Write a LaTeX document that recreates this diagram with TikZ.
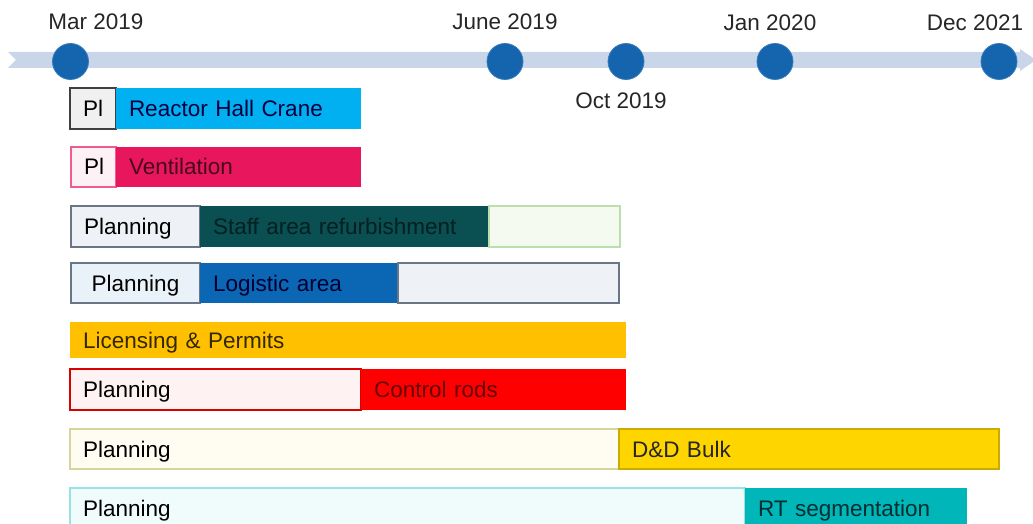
\documentclass[tikz,border=0pt]{standalone}
\usepackage{fontspec}
\setmainfont{Liberation Sans}
\usetikzlibrary{positioning}
\definecolor{bandc}{HTML}{C9D5E8}
\definecolor{dotc}{HTML}{1465AE}
\definecolor{cranec}{HTML}{00B0F0}
\definecolor{ventc}{HTML}{E8175D}
\definecolor{staffc}{HTML}{0A4F52}
\definecolor{logc}{HTML}{0B67B3}
\definecolor{licc}{HTML}{FFC000}
\definecolor{rodc}{HTML}{FF0000}
\definecolor{bulkc}{HTML}{FFD500}
\definecolor{rtc}{HTML}{00B6B8}
\definecolor{greyline}{HTML}{6A7585}
\definecolor{paleblue}{HTML}{EAF2F9}
\definecolor{palegrey}{HTML}{EEF1F5}
\definecolor{palegreen}{HTML}{F5FAF1}
\definecolor{greenline}{HTML}{BCDFAE}
\tikzset{
 seg/.style={minimum height=40pt, inner xsep=13pt, inner ysep=0pt, outer sep=0pt, anchor=west,
  text height=17pt, text depth=1pt,
  align=left, font=\fontsize{22.5}{24}\selectfont, line width=1.2pt},
 dot/.style={circle, fill=dotc, draw=dotc!85!white, line width=.8pt, minimum size=36pt, inner sep=0pt},
 datelbl/.style={font=\fontsize{22.5}{24}\selectfont, text=black!85}
}
\begin{document}
\begin{tikzpicture}[x=1pt, y=-1pt]
\useasboundingbox (0,0) rectangle (1033,524);
% timeline
\fill[bandc](8,52)--(1020,52)--(1020,49)--(1036,60)--(1020,71)--(1020,68)--(8,68)--(16,60)--cycle;
\node[dot] (mar) at (70.5,61.5) {};
\node[dot] (jun) at (505,61.5) {};
\node[dot] (oct) at (626,61.5) {};
\node[dot] (jan) at (775,61.5) {};
\node[dot] (dec) at (999,61.5) {};
\node[datelbl] (marlbl) at (96,22) {Mar 2019};
\node[datelbl] (junlbl) at (505,22) {June 2019};
\node[datelbl] (janlbl) at (770,23) {Jan 2020};
\node[datelbl] (declbl) at (975,23) {Dec 2021};
\node[datelbl] (octlbl) at (621,101) {Oct 2019};
% work packages
\node[seg, draw=black!75, fill=black!6, text width=20pt, align=center, minimum height=41pt] (cranepl) at (70,108.5) {Pl};
\node[seg, fill=cranec, text=blue!25!black, text width=219pt, minimum height=41pt, right=0pt of cranepl] (crane) {Reactor Hall Crane};
\node[seg, draw=ventc!70!white, fill=ventc!6, text width=19pt, align=center] (ventpl) at (71,167) {Pl};
\node[seg, fill=ventc, text=ventc!30!black, text width=219pt, right=0pt of ventpl] (vent) {Ventilation};
\node[seg, draw=greyline, fill=palegrey, text width=103pt, minimum height=41pt] (staffpl) at (71,226.5) {Planning};
\node[seg, fill=staffc, text=staffc!40!black, text width=263pt, minimum height=41pt, right=0pt of staffpl] (staff) {Staff area refurbishment};
\node[seg, draw=greenline, fill=palegreen, text width=105pt, minimum height=41pt, right=0pt of staff] (staffend) {};
\node[seg, draw=greyline, fill=paleblue, text width=103pt, align=center] (logpl) at (71,283) {Planning};
\node[seg, fill=logc, text=blue!20!black, text width=172pt, right=0pt of logpl] (log) {Logistic area};
\node[seg, draw=greyline, fill=palegrey, text width=195pt, right=0pt of log] (logend) {};
\node[seg, fill=licc, text=licc!20!black, text width=530pt, minimum height=36pt] (lic) at (70,340) {Licensing \& Permits};
\node[seg, draw=rodc!85!black, fill=rodc!5, text width=265pt, minimum height=41pt] (rodpl) at (70,389.5) {Planning};
\node[seg, fill=rodc, text=rodc!40!black, text width=239pt, minimum height=41pt, right=0pt of rodpl] (rod) {Control rods};
\node[seg, draw=yellow!60!black!45, fill=orange!30!yellow!5, text width=523pt] (bulkpl) at (70,449) {Planning};
\node[seg, fill=bulkc, draw=bulkc!80!black, text=black!85, text width=354pt, right=0pt of bulkpl] (bulk) {D\&D Bulk};
\node[seg, draw=rtc!40, fill=rtc!6, text width=649pt] (rtpl) at (70,508) {Planning};
\node[seg, fill=rtc, text=rtc!25!black, text width=196pt, right=0pt of rtpl] (rt) {RT segmentation};
\end{tikzpicture}
\end{document}
